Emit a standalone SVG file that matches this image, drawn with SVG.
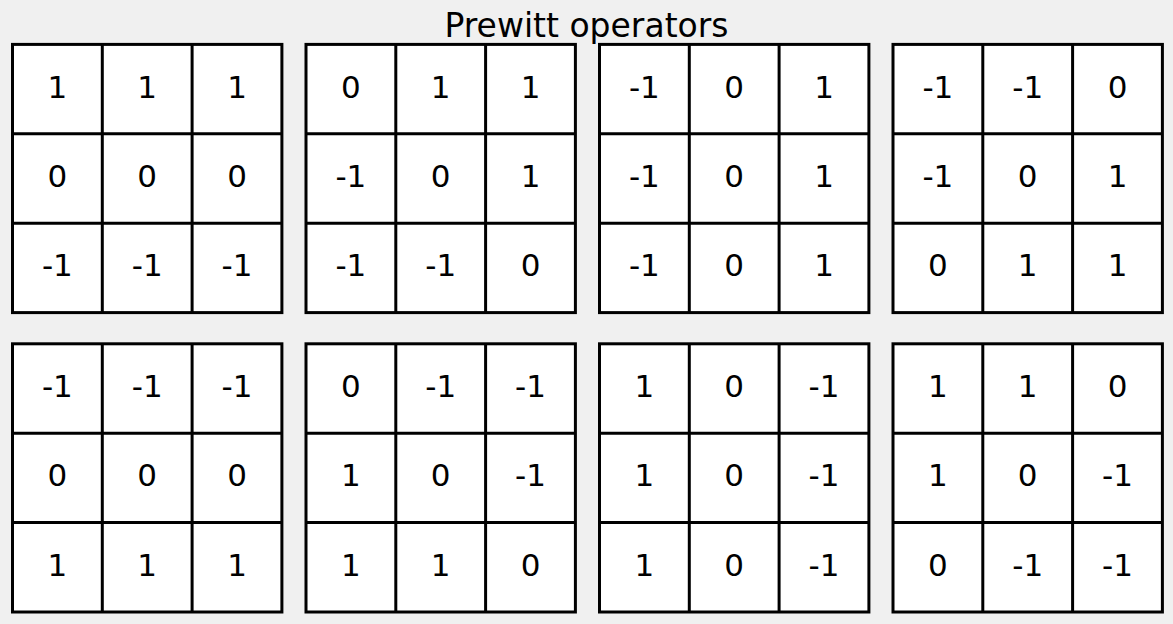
<svg xmlns="http://www.w3.org/2000/svg" width="1173" height="624" viewBox="0 0 1173 624">
<style>
.bg{fill:#f0f0f0}
.box{fill:#ffffff;stroke:#000000;stroke-width:3}
.ln{stroke:#000000;stroke-width:3}
.v{font-family:"DejaVu Sans",sans-serif;font-size:31px;text-anchor:middle;fill:#000000}
.title{font-family:"DejaVu Sans",sans-serif;font-size:33px;text-anchor:middle;fill:#000000}
</style>
<defs>
<g id="grid">
<rect class="box" x="0" y="0" width="269.4" height="268.2"/>
<line class="ln" x1="89.8" y1="0" x2="89.8" y2="268.2"/>
<line class="ln" x1="179.6" y1="0" x2="179.6" y2="268.2"/>
<line class="ln" x1="0" y1="89.4" x2="269.4" y2="89.4"/>
<line class="ln" x1="0" y1="178.8" x2="269.4" y2="178.8"/>
</g>
</defs>
<rect class="bg" x="0" y="0" width="1173" height="624"/>
<text class="title" x="586.5" y="37">Prewitt operators</text>

<g id="m1" transform="translate(12.5,44.4)">
<use href="#grid"/>
<text class="v" x="44.9" y="53.3">1</text><text class="v" x="134.7" y="53.3">1</text><text class="v" x="224.5" y="53.3">1</text>
<text class="v" x="44.9" y="142.7">0</text><text class="v" x="134.7" y="142.7">0</text><text class="v" x="224.5" y="142.7">0</text>
<text class="v" x="44.9" y="232.1">-1</text><text class="v" x="134.7" y="232.1">-1</text><text class="v" x="224.5" y="232.1">-1</text>
</g>
<g id="m2" transform="translate(306,44.4)">
<use href="#grid"/>
<text class="v" x="44.9" y="53.3">0</text><text class="v" x="134.7" y="53.3">1</text><text class="v" x="224.5" y="53.3">1</text>
<text class="v" x="44.9" y="142.7">-1</text><text class="v" x="134.7" y="142.7">0</text><text class="v" x="224.5" y="142.7">1</text>
<text class="v" x="44.9" y="232.1">-1</text><text class="v" x="134.7" y="232.1">-1</text><text class="v" x="224.5" y="232.1">0</text>
</g>
<g id="m3" transform="translate(599.5,44.4)">
<use href="#grid"/>
<text class="v" x="44.9" y="53.3">-1</text><text class="v" x="134.7" y="53.3">0</text><text class="v" x="224.5" y="53.3">1</text>
<text class="v" x="44.9" y="142.7">-1</text><text class="v" x="134.7" y="142.7">0</text><text class="v" x="224.5" y="142.7">1</text>
<text class="v" x="44.9" y="232.1">-1</text><text class="v" x="134.7" y="232.1">0</text><text class="v" x="224.5" y="232.1">1</text>
</g>
<g id="m4" transform="translate(893,44.4)">
<use href="#grid"/>
<text class="v" x="44.9" y="53.3">-1</text><text class="v" x="134.7" y="53.3">-1</text><text class="v" x="224.5" y="53.3">0</text>
<text class="v" x="44.9" y="142.7">-1</text><text class="v" x="134.7" y="142.7">0</text><text class="v" x="224.5" y="142.7">1</text>
<text class="v" x="44.9" y="232.1">0</text><text class="v" x="134.7" y="232.1">1</text><text class="v" x="224.5" y="232.1">1</text>
</g>
<g id="m5" transform="translate(12.5,343.8)">
<use href="#grid"/>
<text class="v" x="44.9" y="53.3">-1</text><text class="v" x="134.7" y="53.3">-1</text><text class="v" x="224.5" y="53.3">-1</text>
<text class="v" x="44.9" y="142.7">0</text><text class="v" x="134.7" y="142.7">0</text><text class="v" x="224.5" y="142.7">0</text>
<text class="v" x="44.9" y="232.1">1</text><text class="v" x="134.7" y="232.1">1</text><text class="v" x="224.5" y="232.1">1</text>
</g>
<g id="m6" transform="translate(306,343.8)">
<use href="#grid"/>
<text class="v" x="44.9" y="53.3">0</text><text class="v" x="134.7" y="53.3">-1</text><text class="v" x="224.5" y="53.3">-1</text>
<text class="v" x="44.9" y="142.7">1</text><text class="v" x="134.7" y="142.7">0</text><text class="v" x="224.5" y="142.7">-1</text>
<text class="v" x="44.9" y="232.1">1</text><text class="v" x="134.7" y="232.1">1</text><text class="v" x="224.5" y="232.1">0</text>
</g>
<g id="m7" transform="translate(599.5,343.8)">
<use href="#grid"/>
<text class="v" x="44.9" y="53.3">1</text><text class="v" x="134.7" y="53.3">0</text><text class="v" x="224.5" y="53.3">-1</text>
<text class="v" x="44.9" y="142.7">1</text><text class="v" x="134.7" y="142.7">0</text><text class="v" x="224.5" y="142.7">-1</text>
<text class="v" x="44.9" y="232.1">1</text><text class="v" x="134.7" y="232.1">0</text><text class="v" x="224.5" y="232.1">-1</text>
</g>
<g id="m8" transform="translate(893,343.8)">
<use href="#grid"/>
<text class="v" x="44.9" y="53.3">1</text><text class="v" x="134.7" y="53.3">1</text><text class="v" x="224.5" y="53.3">0</text>
<text class="v" x="44.9" y="142.7">1</text><text class="v" x="134.7" y="142.7">0</text><text class="v" x="224.5" y="142.7">-1</text>
<text class="v" x="44.9" y="232.1">0</text><text class="v" x="134.7" y="232.1">-1</text><text class="v" x="224.5" y="232.1">-1</text>
</g>
</svg>
